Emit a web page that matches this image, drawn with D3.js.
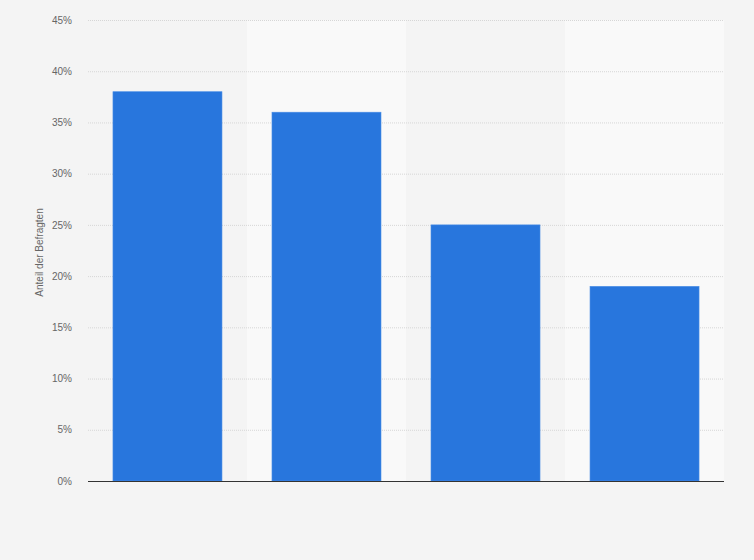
<!DOCTYPE html>
<html>
<head>
<meta charset="utf-8">
<script src="https://cdn.jsdelivr.net/npm/d3@7"></script>
<style>
  body { margin: 0; background: #f4f4f4; }
  svg { display: block; font-family: "Liberation Sans", Arial, sans-serif; }
</style>
</head>
<body>
<svg id="chart"></svg>
<script>
// categories have no visible labels in the source
const categories = ["A", "B", "C", "D"];
const shares = [38, 36, 25, 19];
const yTicks = [0, 5, 10, 15, 20, 25, 30, 35, 40, 45];
const yTitle = "Anteil der Befragten";

const WIDTH = 754, HEIGHT = 560;
const margin = { top: 20, right: 30, bottom: 79, left: 88 };

const svg = d3.select("#chart")
    .attr("width", WIDTH)
    .attr("height", HEIGHT);

svg.append("rect")
    .attr("width", WIDTH)
    .attr("height", HEIGHT)
    .attr("fill", "#f4f4f4");

const xScale = d3.scaleBand()
    .domain(categories)
    .range([margin.left, WIDTH - margin.right])
    .paddingInner(0.3145)
    .paddingOuter(0.157);

const yScale = d3.scaleLinear()
    .domain([0, 45])
    .range([HEIGHT - margin.bottom, margin.top]);

const step = xScale.step();

// alternating column bands
svg.selectAll("rect.band")
    .data(categories.filter((d, i) => i % 2 === 1))
    .enter()
    .append("rect")
    .attr("class", "band")
    .attr("x", d => xScale(d) - step * xScale.paddingInner() / 2)
    .attr("y", margin.top)
    .attr("width", step)
    .attr("height", yScale(0) - margin.top)
    .attr("fill", "#f9f9f9");

// grid lines
svg.selectAll("line.grid")
    .data(yTicks.filter(d => d > 0))
    .enter()
    .append("line")
    .attr("class", "grid")
    .attr("x1", margin.left)
    .attr("x2", WIDTH - margin.right)
    .attr("y1", d => yScale(d) + 0.5)
    .attr("y2", d => yScale(d) + 0.5)
    .style("stroke", "#d6d6d6")
    .style("stroke-dasharray", "1,1");

// y axis labels
const yAxis = d3.axisLeft(yScale)
    .tickValues(yTicks)
    .tickFormat(d => d + "%")
    .tickSize(0)
    .tickPadding(16);

svg.append("g")
    .attr("transform", `translate(${margin.left},0)`)
    .call(yAxis)
    .call(g => g.select(".domain").remove())
    .selectAll("text")
    .attr("font-size", 10)
    .attr("font-family", "\"Liberation Sans\", Arial, sans-serif")
    .attr("fill", "#666");

// bars
svg.selectAll("rect.bar")
    .data(shares)
    .enter()
    .append("rect")
    .attr("class", "bar")
    .attr("x", (d, i) => xScale(categories[i]))
    .attr("y", d => yScale(d))
    .attr("width", xScale.bandwidth())
    .attr("height", d => yScale(0) - yScale(d))
    .style("fill", "#2876dd")
    .style("stroke", "#4a8ee6")
    .style("stroke-width", 0.6);

// baseline
svg.append("line")
    .attr("x1", margin.left)
    .attr("x2", WIDTH - margin.right)
    .attr("y1", yScale(0) + 0.5)
    .attr("y2", yScale(0) + 0.5)
    .style("stroke", "#333")
    .style("stroke-width", 1.2);

// y title
svg.append("text")
    .attr("transform", `translate(43,${(margin.top + yScale(0)) / 2 + 2}) rotate(-90)`)
    .attr("text-anchor", "middle")
    .attr("font-size", 10)
    .attr("fill", "#666")
    .text(yTitle);
</script>
</body>
</html>
